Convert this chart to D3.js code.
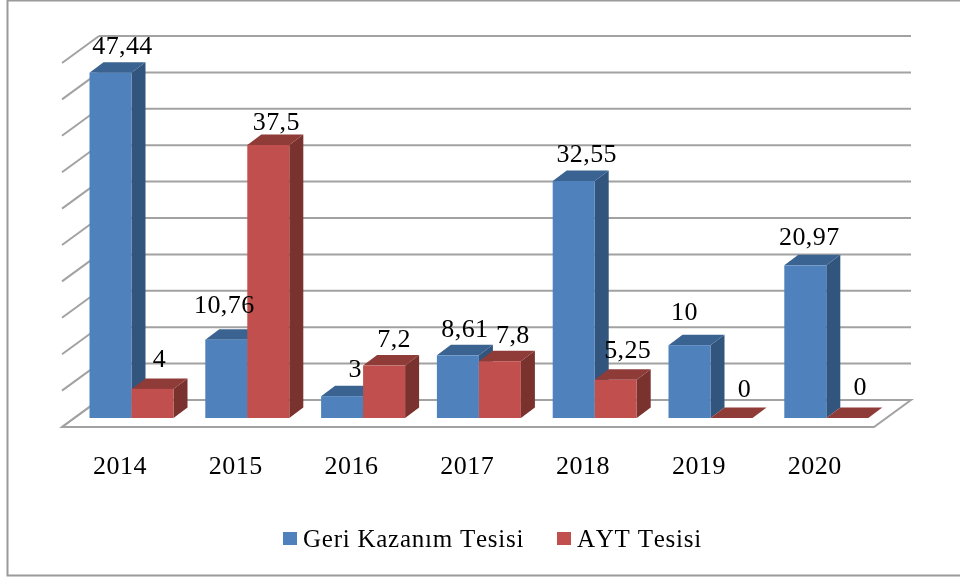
<!DOCTYPE html>
<html>
<head>
<meta charset="utf-8">
<script src="https://cdnjs.cloudflare.com/ajax/libs/d3/7.8.5/d3.min.js"></script>
<style>
  html, body { margin: 0; padding: 0; background: #fff; }
  text { font-family: "Liberation Serif", serif; fill: #000; font-kerning: none; }
</style>
</head>
<body>
<svg id="chart" width="960" height="579"></svg>
<script>
var years = ['2014', '2015', '2016', '2017', '2018', '2019', '2020'];
var geriKazanim = [47.44, 10.76, 3, 8.61, 32.55, 10, 20.97];
var aytTesisi = [4, 37.5, 7.2, 7.8, 5.25, 0, 0];
var yTicks = [0, 5, 10, 15, 20, 25, 30, 35, 40, 45, 50];
var seriesNames = ['Geri Kazanım Tesisi', 'AYT Tesisi'];

var svg = d3.select('#chart');
var soft = svg.append('defs').append('filter').attr('id', 'soft');
soft.append('feGaussianBlur').attr('stdDeviation', 0.5);
var root = svg.append('g').attr('filter', 'url(#soft)');

var colors = [
  {front: '#4f81bd', side: '#32547e', top: '#3b6491'},
  {front: '#c0504d', side: '#7a302e', top: '#8f3b39'}
];

// front plane of the bars, the wall sits further back
var y = d3.scaleLinear().domain([0, 50]).range([418, 54]);
var x = d3.scaleLinear().domain([0, 7]).range([89.5, 89.5 + 115.8 * 7]);
var barW = 42, barDx = 14, barDy = 10.5;
var wallDx = 37, wallDy = 27;
var floorY = 427, floorL = 62, floorR = 874;

function pts(a) {
  return a.map(function(p) { return p.join(','); }).join(' ');
}

// frame, open on the right like the source
root.append('path')
  .attr('d', 'M961,0.5H7.5V575.5H961')
  .attr('fill', 'none')
  .attr('stroke', '#9a9a9a')
  .attr('stroke-width', 2);

// grid: wall lines and the slanted ticks on the left
var gridY = function(v) { return y(v) - 18; };
yTicks.forEach(function(t) {
  var gy = gridY(t);
  if (t > 0) {
    root.append('line')
      .attr('x1', floorL + wallDx).attr('x2', floorR + wallDx)
      .attr('y1', gy).attr('y2', gy)
      .attr('stroke', '#a2a2a2').attr('stroke-width', 2);
  }
  root.append('line')
    .attr('x1', floorL).attr('x2', floorL + wallDx)
    .attr('y1', gy + wallDy).attr('y2', gy)
    .attr('stroke', '#a2a2a2').attr('stroke-width', 2);
});
root.append('polygon')
  .attr('points', pts([
    [floorL, floorY], [floorL + wallDx, floorY - wallDy],
    [floorR + wallDx, floorY - wallDy], [floorR, floorY]
  ]))
  .attr('fill', 'none').attr('stroke', '#a2a2a2').attr('stroke-width', 2);

function drawBar(x0, value, c) {
  var top = y(value), base = y(0), g = root.append('g');
  if (value > 0) {
    g.append('polygon')
      .attr('points', pts([
        [x0 + barW, top], [x0 + barW + barDx, top - barDy],
        [x0 + barW + barDx, base - barDy], [x0 + barW, base]
      ]))
      .attr('fill', c.side);
  }
  g.append('polygon')
    .attr('points', pts([
      [x0, top], [x0 + barDx, top - barDy],
      [x0 + barW + barDx, top - barDy], [x0 + barW, top]
    ]))
    .attr('fill', c.top);
  if (value > 0) {
    g.append('rect')
      .attr('x', x0).attr('y', top)
      .attr('width', barW).attr('height', base - top)
      .attr('fill', c.front);
  }
}

years.forEach(function(yr, i) {
  drawBar(x(i), geriKazanim[i], colors[0]);
  drawBar(x(i) + barW, aytTesisi[i], colors[1]);
});

// each label was hand placed in the source
var nudgeA = [[12, -19], [-2, -27], [13, -19], [7, -18], [13, -19], [-5, -25], [4, -20]];
var nudgeB = [[7, -22], [8, -15], [10, -19], [13, -18], [12, -22], [13, -21], [13, -23]];

function fmt(v) {
  return String(v).replace('.', ',');
}

function drawLabels(values, offset, nudge) {
  root.append('g').selectAll('text')
    .data(values)
    .join('text')
    .attr('x', function(d, i) { return x(i) + offset + barW / 2 + nudge[i][0]; })
    .attr('y', function(d, i) { return y(d) + nudge[i][1]; })
    .attr('text-anchor', 'middle')
    .attr('font-size', 26)
    .attr('letter-spacing', 0.4)
    .text(fmt);
}
drawLabels(geriKazanim, 0, nudgeA);
drawLabels(aytTesisi, barW, nudgeB);

// category labels
var xAxis = d3.scaleBand().domain(years).range([x(0) - 27.5, x(7) - 27.5]);
var axisG = root.append('g')
  .attr('transform', 'translate(0,' + 456 + ')')
  .call(d3.axisBottom(xAxis).tickSize(0).tickPadding(0));
axisG.select('.domain').remove();
axisG.selectAll('text')
  .attr('font-size', 26)
  .attr('font-family', '"Liberation Serif", serif')
  .attr('fill', '#000')
  .attr('letter-spacing', 0.5);

// legend
var legendX = [283, 557];
var legend = root.append('g').selectAll('g')
  .data(seriesNames)
  .join('g')
  .attr('transform', function(d, i) { return 'translate(' + legendX[i] + ',532)'; });
legend.append('rect')
  .attr('width', 14).attr('height', 13)
  .attr('fill', function(d, i) { return colors[i].front; });
legend.append('text')
  .attr('x', 20)
  .attr('y', 14.5)
  .attr('font-size', 25)
  .attr('letter-spacing', 0.75)
  .text(function(d) { return d; });
</script>
</body>
</html>
